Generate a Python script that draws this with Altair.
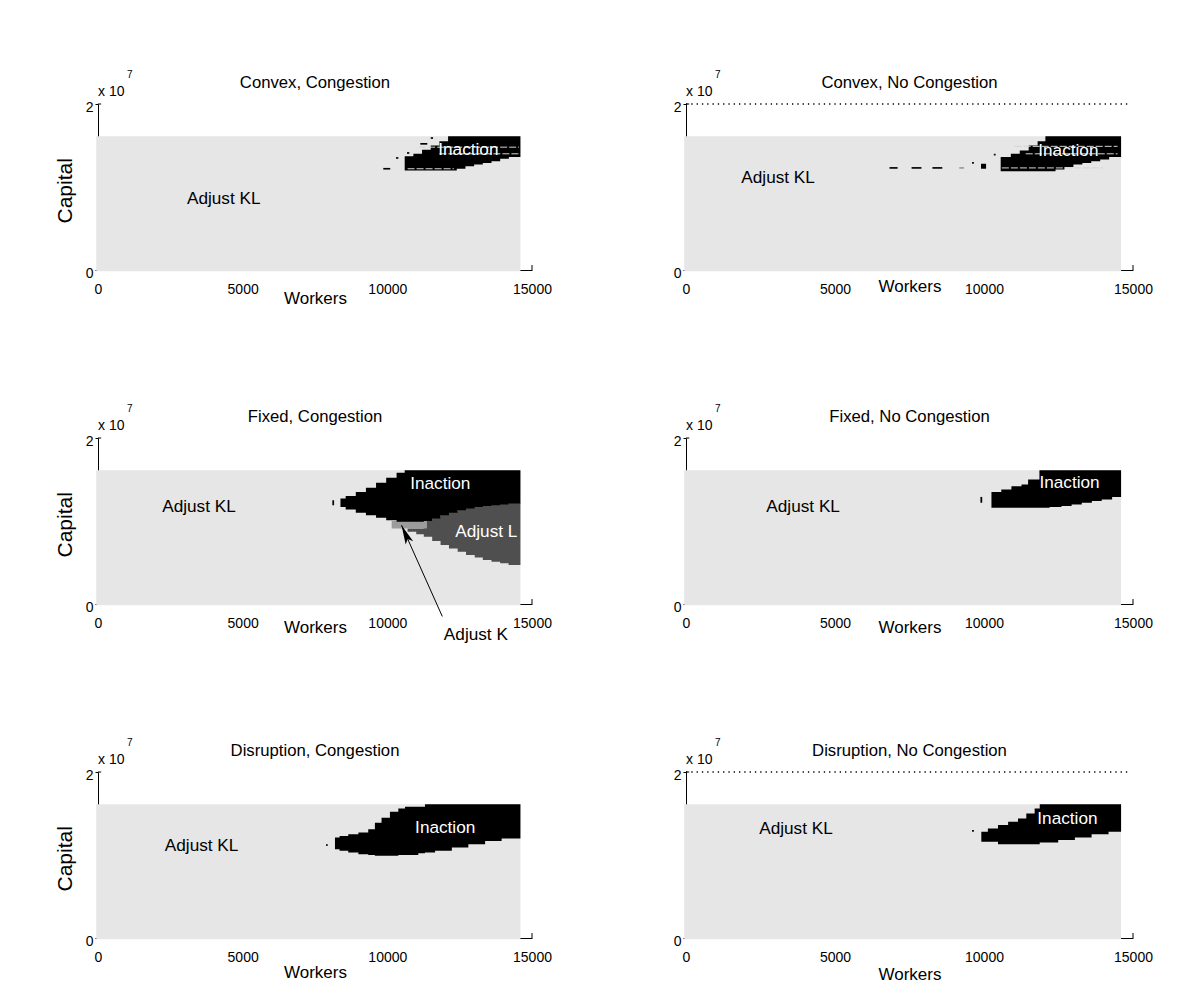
import altair as alt
import pandas as pd

FONT = "Liberation Sans, Arial, sans-serif"

X_TICKS = [0, 5000, 10000, 15000]
Y_TICKS = [0, 1, 2]
X_MAX = 15000
Y_MAX = 2
GRID_X0, GRID_X1 = -60, 14600
GRID_Y0, GRID_Y1 = -0.015, 1.61

TITLES = ["Convex, Congestion", "Convex, No Congestion",
          "Fixed, Congestion", "Fixed, No Congestion",
          "Disruption, Congestion", "Disruption, No Congestion"]

# Inaction (black) regions: column start (workers), lower / upper capital (x10^7)
P1_X = [10600, 10900, 11200, 11500, 11800, 12100, 12400, 12700, 13000, 13300, 13600, 13900, 14200, 14600]
P1_LO = [1.20, 1.20, 1.20, 1.20, 1.20, 1.20, 1.22, 1.25, 1.27, 1.29, 1.31, 1.34, 1.36, 1.38]
P1_HI = [1.37, 1.40, 1.45, 1.50, 1.55, 1.61, 1.61, 1.61, 1.61, 1.61, 1.61, 1.61, 1.61, 1.61]

P2_X = [10560, 10900, 11200, 11500, 11800, 12060, 12400, 12700, 13000, 13300, 13600, 13900, 14200, 14600]
P2_LO = [1.19, 1.19, 1.19, 1.19, 1.19, 1.19, 1.21, 1.24, 1.27, 1.29, 1.31, 1.33, 1.36, 1.37]
P2_HI = [1.36, 1.40, 1.44, 1.50, 1.55, 1.61, 1.61, 1.61, 1.61, 1.61, 1.61, 1.61, 1.61, 1.61]

P3_X = [8380, 8560, 8910, 9260, 9610, 9960, 10320, 10600, 10950, 11260, 11550, 11840, 12130, 12430,
        12720, 13020, 13300, 13600, 13900, 14190, 14600]
P3_LO = [1.17, 1.14, 1.10, 1.07, 1.04, 1.01, 0.99, 0.99, 0.99, 1.00, 1.03, 1.07, 1.10, 1.13,
         1.15, 1.17, 1.18, 1.19, 1.20, 1.21, 1.25]
P3_HI = [1.27, 1.30, 1.35, 1.40, 1.46, 1.52, 1.58, 1.61, 1.61, 1.61, 1.61, 1.61, 1.61, 1.61,
         1.61, 1.61, 1.61, 1.61, 1.61, 1.61, 1.61]

# Fixed, Congestion: Adjust L (dark grey) and Adjust K (mid grey)
P3L_X = [10700, 11000, 11260, 11550, 11840, 12130, 12430, 12720, 13020, 13300, 13600, 13900, 14190, 14600]
P3L_LO = [0.87, 0.84, 0.81, 0.76, 0.71, 0.67, 0.63, 0.59, 0.56, 0.53, 0.51, 0.49, 0.47, 0.44]
P3L_HI = [0.91, 0.91, 1.01, 1.04, 1.08, 1.11, 1.14, 1.16, 1.18, 1.19, 1.20, 1.21, 1.22, 1.26]
P3K_X = [10150, 11370]
P3K_Y = [0.91, 1.00]
ARROW_TAIL = [11900, -0.15]
ARROW_TIP = [10490, 0.95]

P4_X = [10250, 10580, 10920, 11260, 11480, 11860, 12200, 12600, 12940, 13280, 13620, 13950, 14300, 14600]
P4_LO = [1.16, 1.16, 1.16, 1.16, 1.16, 1.16, 1.17, 1.18, 1.20, 1.22, 1.24, 1.26, 1.29, 1.31]
P4_HI = [1.35, 1.38, 1.42, 1.44, 1.50, 1.61, 1.61, 1.61, 1.61, 1.61, 1.61, 1.61, 1.61, 1.61]

P5_X = [8190, 8350, 8650, 9000, 9340, 9570, 9800, 10090, 10380, 10610, 11070, 11300, 11650, 12230,
        12800, 13380, 13950, 14600]
P5_LO = [1.07, 1.05, 1.03, 1.01, 1.00, 0.99, 0.99, 0.99, 1.00, 1.00, 1.02, 1.03, 1.05, 1.09,
         1.13, 1.17, 1.20, 1.23]
P5_HI = [1.21, 1.23, 1.25, 1.27, 1.31, 1.39, 1.45, 1.52, 1.56, 1.58, 1.58, 1.61, 1.61, 1.61,
         1.61, 1.61, 1.61, 1.61]

P6_X = [9910, 10130, 10470, 10810, 11140, 11420, 11700, 11870, 12490, 13050, 13610, 14180, 14600]
P6_LO = [1.16, 1.16, 1.13, 1.13, 1.13, 1.13, 1.13, 1.15, 1.18, 1.21, 1.25, 1.28, 1.31]
P6_HI = [1.28, 1.32, 1.36, 1.40, 1.44, 1.50, 1.56, 1.61, 1.61, 1.61, 1.61, 1.61, 1.61]

# small isolated cells (x1, x2, y1, y2, colour)
P1_SPK_X1 = [9860, 10300, 10680, 11140, 11500]
P1_SPK_X2 = [10100, 10380, 10760, 11380, 11580]
P1_SPK_Y1 = [1.21, 1.34, 1.40, 1.51, 1.58]
P1_SPK_Y2 = [1.23, 1.36, 1.42, 1.53, 1.60]
P1_SPK_C = ["black", "black", "black", "black", "black"]

P2_SPK_X1 = [6830, 7570, 8270, 9170, 9900, 9600, 10330]
P2_SPK_X2 = [7100, 7900, 8600, 9330, 10070, 9660, 10390]
P2_SPK_Y1 = [1.22, 1.22, 1.22, 1.22, 1.22, 1.28, 1.38]
P2_SPK_Y2 = [1.24, 1.24, 1.24, 1.24, 1.28, 1.30, 1.40]
P2_SPK_C = ["black", "black", "black", "#9a9a9a", "black", "black", "black"]

P3_SPK_X1 = [8100]
P3_SPK_X2 = [8160]
P3_SPK_Y1 = [1.19]
P3_SPK_Y2 = [1.25]
P3_SPK_C = ["black"]

P4_SPK_X1 = [9880]
P4_SPK_X2 = [9940]
P4_SPK_Y1 = [1.22]
P4_SPK_Y2 = [1.29]
P4_SPK_C = ["black"]

P5_SPK_X1 = [7880]
P5_SPK_X2 = [7940]
P5_SPK_Y1 = [1.11]
P5_SPK_Y2 = [1.13]
P5_SPK_C = ["black"]

P6_SPK_X1 = [9600]
P6_SPK_X2 = [9660]
P6_SPK_Y1 = [1.28]
P6_SPK_Y2 = [1.30]
P6_SPK_C = ["black"]

# light streaks crossing the black region (convex panels)
P1_STR_X1 = [11100, 11800, 10700]
P1_STR_X2 = [14550, 14550, 12300]
P1_STR_Y = [1.48, 1.40, 1.22]
P2_STR_X1 = [11030, 11400, 10600]
P2_STR_X2 = [14480, 14480, 14000]
P2_STR_Y = [1.49, 1.40, 1.23]

# region labels
P1_LBL = ["Adjust KL", "Inaction"]
P1_LBL_X = [4345, 12800]
P1_LBL_Y = [0.86, 1.44]
P1_LBL_C = ["black", "white"]
P2_LBL = ["Adjust KL", "Inaction"]
P2_LBL_X = [3090, 12830]
P2_LBL_Y = [1.11, 1.43]
P2_LBL_C = ["black", "white"]
P3_LBL = ["Adjust KL", "Inaction", "Adjust L", "Adjust K"]
P3_LBL_X = [3490, 11830, 13420, 13060]
P3_LBL_Y = [1.17, 1.45, 0.87, -0.37]
P3_LBL_C = ["black", "white", "white", "black"]
P4_LBL = ["Adjust KL", "Inaction"]
P4_LBL_X = [3930, 12870]
P4_LBL_Y = [1.17, 1.46]
P4_LBL_C = ["black", "white"]
P5_LBL = ["Adjust KL", "Inaction"]
P5_LBL_X = [3580, 12000]
P5_LBL_Y = [1.11, 1.33]
P5_LBL_C = ["black", "white"]
P6_LBL = ["Adjust KL", "Inaction"]
P6_LBL_X = [3690, 12800]
P6_LBL_Y = [1.31, 1.43]
P6_LBL_C = ["black", "white"]

DOTTED_TOP = [False, True, False, False, False, True]
WORKERS_DY = [28, 16, 23, 23, 34, 36]

PANELS = [
    (P1_X, P1_LO, P1_HI, P1_SPK_X1, P1_SPK_X2, P1_SPK_Y1, P1_SPK_Y2, P1_SPK_C, P1_LBL, P1_LBL_X, P1_LBL_Y, P1_LBL_C),
    (P2_X, P2_LO, P2_HI, P2_SPK_X1, P2_SPK_X2, P2_SPK_Y1, P2_SPK_Y2, P2_SPK_C, P2_LBL, P2_LBL_X, P2_LBL_Y, P2_LBL_C),
    (P3_X, P3_LO, P3_HI, P3_SPK_X1, P3_SPK_X2, P3_SPK_Y1, P3_SPK_Y2, P3_SPK_C, P3_LBL, P3_LBL_X, P3_LBL_Y, P3_LBL_C),
    (P4_X, P4_LO, P4_HI, P4_SPK_X1, P4_SPK_X2, P4_SPK_Y1, P4_SPK_Y2, P4_SPK_C, P4_LBL, P4_LBL_X, P4_LBL_Y, P4_LBL_C),
    (P5_X, P5_LO, P5_HI, P5_SPK_X1, P5_SPK_X2, P5_SPK_Y1, P5_SPK_Y2, P5_SPK_C, P5_LBL, P5_LBL_X, P5_LBL_Y, P5_LBL_C),
    (P6_X, P6_LO, P6_HI, P6_SPK_X1, P6_SPK_X2, P6_SPK_Y1, P6_SPK_Y2, P6_SPK_C, P6_LBL, P6_LBL_X, P6_LBL_Y, P6_LBL_C),
]
STREAKS = {0: (P1_STR_X1, P1_STR_X2, P1_STR_Y), 1: (P2_STR_X1, P2_STR_X2, P2_STR_Y)}

LEFT_W, RIGHT_W, PANEL_H = 434, 447, 166


def xs():
    return alt.Scale(domain=[0, X_MAX], nice=False, zero=False)


def ys():
    return alt.Scale(domain=[0, Y_MAX], nice=False, zero=False)


def make_panel(i):
    col = i % 2
    width = LEFT_W if col == 0 else RIGHT_W
    (px, plo, phi, sx1, sx2, sy1, sy2, sc, lbl, lx, ly, lc) = PANELS[i]

    xaxis = alt.Axis(values=X_TICKS, format="d", title="Workers",
                     titleX=width * 7500 / X_MAX, titleY=WORKERS_DY[i],
                     titleBaseline="middle", titleAlign="center", titleAngle=0,
                     titleFont=FONT, titleFontSize=17, titleFontWeight="normal", titleColor="black",
                     labelFont=FONT, labelFontSize=14, labelColor="black", labelPadding=12,
                     labelFlush=False, labelOverlap=False,
                     ticks=False, grid=False, domainColor="black", domainWidth=1)
    yargs = dict(values=Y_TICKS, format="d",
                 labelFont=FONT, labelFontSize=14, labelColor="black", labelPadding=2,
                 labelOffset=3, labelFlush=False, labelOverlap=False,
                 ticks=True, tickSize=3, tickColor="black",
                 grid=False, domainColor="black", domainWidth=1)
    if col == 0:
        yargs.update(title="Capital", titleX=-33, titleY=PANEL_H * 0.52, titleAngle=270,
                     titleBaseline="middle", titleAlign="center",
                     titleFont=FONT, titleFontSize=21, titleFontWeight="normal", titleColor="black")
    else:
        yargs.update(title=None)
    yaxis = alt.Axis(**yargs)

    def X(f):
        return alt.X(f, scale=xs(), axis=xaxis)

    def Y(f):
        return alt.Y(f, scale=ys(), axis=yaxis)

    layers = []
    grid = pd.DataFrame({"x": [GRID_X0], "x2": [GRID_X1], "y": [GRID_Y0], "y2": [GRID_Y1]})
    layers.append(alt.Chart(grid).mark_rect(color="#e6e6e6").encode(
        x=X("x:Q"), x2="x2:Q", y=Y("y:Q"), y2="y2:Q"))

    if i == 2:
        dfl = pd.DataFrame({"x": P3L_X, "lo": P3L_LO, "hi": P3L_HI})
        layers.append(alt.Chart(dfl).mark_area(color="#4f4f4f", interpolate="step-after").encode(
            x=X("x:Q"), y=Y("hi:Q"), y2="lo:Q"))
        dfk = pd.DataFrame({"x": [P3K_X[0]], "x2": [P3K_X[1]], "y": [P3K_Y[0]], "y2": [P3K_Y[1]]})
        layers.append(alt.Chart(dfk).mark_rect(color="#9c9c9c").encode(
            x=X("x:Q"), x2="x2:Q", y=Y("y:Q"), y2="y2:Q"))

    dfa = pd.DataFrame({"x": px, "lo": plo, "hi": phi})
    layers.append(alt.Chart(dfa).mark_area(color="black", interpolate="step-after").encode(
        x=X("x:Q"), y=Y("hi:Q"), y2="lo:Q"))

    if i in STREAKS:
        s1, s2, sy = STREAKS[i]
        dfs = pd.DataFrame({"x": s1, "x2": s2, "y": sy})
        layers.append(alt.Chart(dfs).mark_rule(color="#d4d4d4", strokeWidth=1, strokeDash=[7, 2]).encode(
            x=X("x:Q"), x2="x2:Q", y=Y("y:Q")))

    dfp = pd.DataFrame({"x": sx1, "x2": sx2, "y": sy1, "y2": sy2, "c": sc})
    layers.append(alt.Chart(dfp).mark_rect().encode(
        x=X("x:Q"), x2="x2:Q", y=Y("y:Q"), y2="y2:Q", color=alt.Color("c:N", scale=None)))

    if i == 2:
        dfr = pd.DataFrame({"x": [ARROW_TAIL[0]], "y": [ARROW_TAIL[1]], "x2": [ARROW_TIP[0]], "y2": [ARROW_TIP[1]]})
        layers.append(alt.Chart(dfr).mark_rule(color="black", strokeWidth=1).encode(
            x=X("x:Q"), x2="x2:Q", y=Y("y:Q"), y2="y2:Q"))
        dfh = pd.DataFrame({"x": [ARROW_TIP[0]], "y": [ARROW_TIP[1]]})
        layers.append(alt.Chart(dfh).mark_point(
            shape="M0,0L0.42,2L0,1.55L-0.42,2Z", filled=True, color="black", opacity=1,
            size=380, angle=336).encode(x=X("x:Q"), y=Y("y:Q")))

    dft = pd.DataFrame({"x": lx, "y": ly, "t": lbl, "c": lc})
    layers.append(alt.Chart(dft).mark_text(font=FONT, fontSize=17.2, baseline="middle", align="center").encode(
        x=X("x:Q"), y=Y("y:Q"), text="t:N", color=alt.Color("c:N", scale=None)))

    # inward tick at the top of the y-axis, end tick of the x-axis
    dft1 = pd.DataFrame({"x": [0], "x2": [110], "y": [Y_MAX]})
    layers.append(alt.Chart(dft1).mark_rule(color="black", strokeWidth=1).encode(
        x=X("x:Q"), x2="x2:Q", y=Y("y:Q")))
    dft2 = pd.DataFrame({"x": [X_MAX], "y": [0], "y2": [0.06]})
    layers.append(alt.Chart(dft2).mark_rule(color="black", strokeWidth=1).encode(
        x=X("x:Q"), y=Y("y:Q"), y2="y2:Q"))

    if DOTTED_TOP[i]:
        dfd = pd.DataFrame({"x": [0], "x2": [14900], "y": [Y_MAX]})
        layers.append(alt.Chart(dfd).mark_rule(color="black", strokeWidth=1.3, strokeDash=[1.3, 4]).encode(
            x=X("x:Q"), x2="x2:Q", y=Y("y:Q")))

    # exponent label and panel title
    dfe = pd.DataFrame({"x": [0], "y": [Y_MAX], "t": ["x 10"], "s": ["7"], "title": [TITLES[i]], "xm": [X_MAX / 2]})
    layers.append(alt.Chart(dfe).mark_text(font=FONT, fontSize=14, align="left", baseline="middle",
                                           dy=-12, color="black").encode(
        x=X("x:Q"), y=Y("y:Q"), text="t:N"))
    layers.append(alt.Chart(dfe).mark_text(font=FONT, fontSize=10, align="left", baseline="middle",
                                           dx=29, dy=-29, color="black").encode(
        x=X("x:Q"), y=Y("y:Q"), text="s:N"))
    layers.append(alt.Chart(dfe).mark_text(font=FONT, fontSize=16.7, align="center", baseline="middle",
                                           dy=-21, color="black").encode(
        x=X("xm:Q"), y=Y("y:Q"), text="title:N"))

    return alt.layer(*layers).properties(width=width, height=PANEL_H)


panels = [make_panel(i) for i in range(6)]

chart = alt.concat(*panels, columns=2).properties(
    spacing={"row": 168, "column": 154},
    bounds="flush",
    align="each",
    padding={"left": 45, "top": 62, "right": 10, "bottom": 0},
    background="white",
).configure_view(stroke=None)

chart.save("out.html", embed_options={"renderer": "svg", "actions": False})
